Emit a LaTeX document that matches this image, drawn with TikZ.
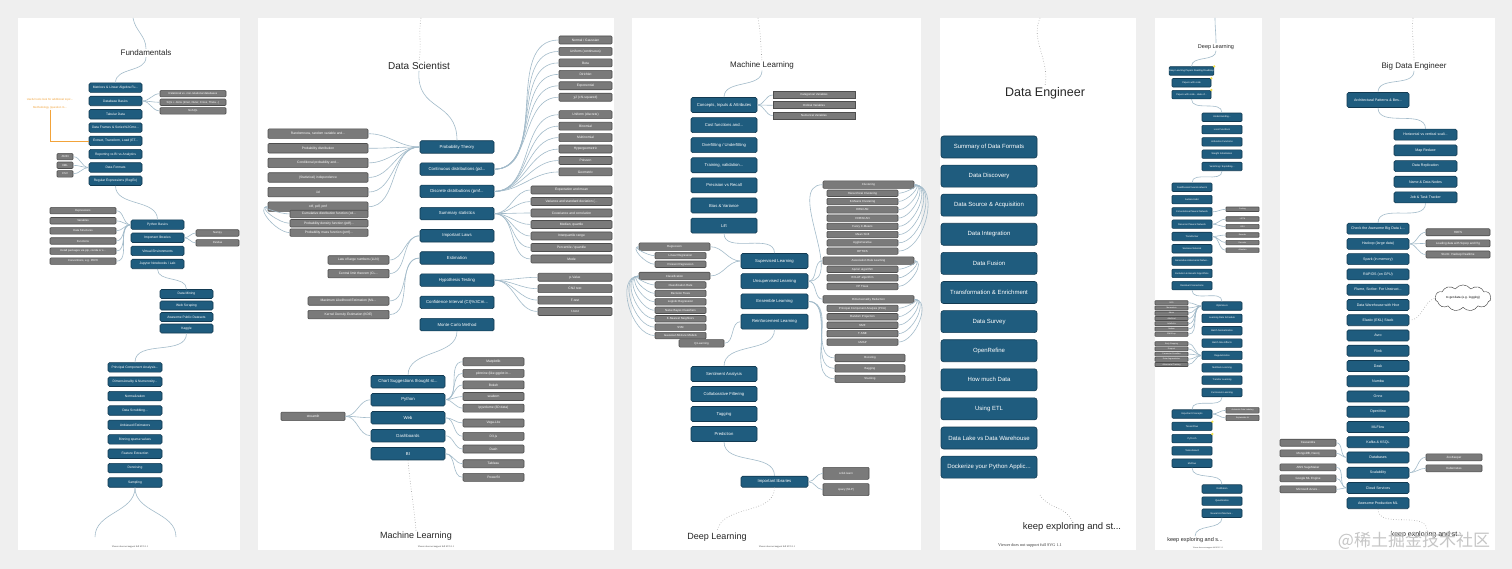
\documentclass[tikz,border=0pt]{standalone}
\usepackage{fontspec}
\setmainfont{Liberation Sans}
\newfontfamily\viewerfont{Liberation Serif}
\newfontfamily\cjk{Noto Sans CJK SC}
\usetikzlibrary{positioning,shapes.symbols}
\definecolor{PageGrey}{HTML}{EFEFEF}
\definecolor{TopicBlue}{HTML}{1F5C7E}
\definecolor{TopicEdge}{HTML}{123A52}
\definecolor{LeafGrey}{HTML}{7A7A7A}
\definecolor{LeafEdge}{HTML}{4E4E4E}
\definecolor{LinkBlue}{HTML}{A3BBCA}
\definecolor{NoteOrange}{HTML}{F2A33A}
\definecolor{NoteYellow}{HTML}{F2E04A}

\begin{document}
\begin{tikzpicture}[x=1pt, y=-1pt,
        topic/.style={rectangle, draw=TopicEdge, fill=TopicBlue, text=white, rounded corners=1.5pt, inner sep=0pt, align=center, line width=0.6pt},
        leaf/.style={rectangle, draw=LeafEdge, fill=LeafGrey, text=white, rounded corners=1pt, inner sep=0pt, align=center, line width=0.6pt},
        fundbox/.style={topic, minimum width=53pt, minimum height=9.5pt, font=\fontsize{3.3}{4}\selectfont},
        fundleaf/.style={leaf, minimum height=6.5pt, font=\fontsize{2.8}{3.4}\selectfont},
        dsbox/.style={topic, minimum width=74pt, minimum height=12.5pt, font=\fontsize{4.3}{5}\selectfont},
        dsleaf/.style={leaf, minimum height=8pt, font=\fontsize{3.3}{4}\selectfont},
        mlbox/.style={topic, minimum width=66pt, minimum height=15pt, font=\fontsize{4.2}{5}\selectfont},
        mlleaf/.style={leaf, minimum height=6.5pt, font=\fontsize{2.9}{3.4}\selectfont},
        debox/.style={topic, minimum width=96pt, minimum height=22pt, rounded corners=2.5pt, font=\fontsize{6}{7}\selectfont},
        dlbox/.style={topic, minimum width=40pt, minimum height=8.5pt, rounded corners=1pt, font=\fontsize{2.4}{3}\selectfont},
        dlleaf/.style={leaf, minimum width=33pt, minimum height=4.5pt, rounded corners=0.6pt, font=\fontsize{2}{2.4}\selectfont},
        bdbox/.style={topic, minimum width=62pt, minimum height=11pt, font=\fontsize{3.6}{4.2}\selectfont},
        bdleaf/.style={leaf, minimum width=56pt, minimum height=7pt, font=\fontsize{3}{3.6}\selectfont},
        headline/.style={text=black!85, inner sep=1pt},
        viewer/.style={font=\viewerfont\fontsize{2.4}{3}\selectfont, text=black!80, inner sep=0pt},
        link/.style={draw=LinkBlue, line width=0.6pt},
        dotlink/.style={draw=gray!75, dotted, line width=0.6pt},
        marker/.style={circle, fill=NoteYellow, inner sep=0pt, minimum size=2.6pt}
    ]
    % page and panels
    \fill [PageGrey] (0,0) rectangle (1512,569);
    \foreach \l/\r in {18/240, 258/614, 632/921, 940/1136, 1155/1262, 1280/1495}
        \fill [white] (\l,18) rectangle (\r,550);

    % ---------- Fundamentals ----------
    \node [headline, font=\fontsize{8}{9}\selectfont] (fund title) at (146,53) {Fundamentals};
    \coordinate (fund top) at (133,18);
    \node [fundbox] (matrices) at (115.5,87.7) {Matrices \& Linear Algebra Fu...};
    \node [fundbox, below=3.2pt of matrices] (dbbasics) {Database Basics};
    \node [fundbox, below=3.2pt of dbbasics] (tabular) {Tabular Data};
    \node [fundbox, below=3.2pt of tabular] (frames) {Data Frames \& Series\%2Cmo...};
    \node [fundbox, below=3.2pt of frames] (etl) {Extract, Transform, Load (ET...};
    \node [fundbox, below=3.2pt of etl] (reporting) {Reporting vs BI vs Analytics};
    \node [fundbox, below=3.2pt of reporting] (formats) {Data Formats};
    \node [fundbox, below=3.2pt of formats] (regex) {Regular Expressions (RegEx)};
    \node [fundleaf, minimum width=66pt] (relational) at (193,93.7) {Relational vs. non-relational databases};
    \node [fundleaf, minimum width=66pt, below=1.5pt of relational] (sqljoins) {SQL + Joins (Inner, Outer, Cross, Theta...)};
    \node [fundleaf, minimum width=66pt, below=1.5pt of sqljoins] (nosql) {NoSQL};
    \node [fundleaf, minimum width=16pt] (json) at (65,156.7) {JSON};
    \node [fundleaf, minimum width=16pt, below=1.5pt of json] (xml) {XML};
    \node [fundleaf, minimum width=16pt, below=1.5pt of xml] (csv) {CSV};
    \node [text=NoteOrange, align=center, inner sep=0pt, font=\fontsize{2.8}{8}\selectfont] (fund note) at (50,104) {Useful tools look for additional topic...\\Methodology (question m...};

    \node [fundbox] (pybasics) at (157.5,224.7) {Python Basics};
    \node [fundbox, below=3pt of pybasics] (pylibs) {Important libraries};
    \node [fundbox, below=3pt of pylibs] (venv) {Virtual Environments};
    \node [fundbox, below=3pt of venv] (jupyter) {Jupyter Notebooks / Lab};
    \node [fundleaf, minimum width=66pt] (expressions) at (83,210.7) {Expressions};
    \node [fundleaf, minimum width=66pt, below=3pt of expressions] (variables) {Variables};
    \node [fundleaf, minimum width=66pt, below=3pt of variables] (structures) {Data Structures};
    \node [fundleaf, minimum width=66pt, below=3pt of structures] (functions) {Functions};
    \node [fundleaf, minimum width=66pt, below=3pt of functions] (install) {Install packages via pip, conda or s...};
    \node [fundleaf, minimum width=66pt, below=3pt of install] (pep) {Conventions, e.g. PEP8};
    \node [fundleaf, minimum width=43pt] (numpy) at (217.5,233) {Numpy};
    \node [fundleaf, minimum width=43pt, below=2.8pt of numpy] (pandas) {Pandas};

    \node [fundbox, minimum height=9pt] (datamining) at (186.5,294) {Data Mining};
    \node [fundbox, minimum height=9pt, below=1.9pt of datamining] (scraping) {Web Scraping};
    \node [fundbox, minimum height=9pt, below=1.9pt of scraping] (datasets) {Awesome Public Datasets};
    \node [fundbox, minimum height=9pt, below=1.9pt of datasets] (kaggle) {Kaggle};

    \node [fundbox, minimum width=54pt] (pca) at (135,367.3) {Principal Component Analysis...};
    \node [fundbox, minimum width=54pt, below=4.3pt of pca] (numerosity) {Dimensionality \& Numerosity...};
    \node [fundbox, minimum width=54pt, below=4.3pt of numerosity] (normalization) {Normalization};
    \node [fundbox, minimum width=54pt, below=4.3pt of normalization] (scrubbing) {Data Scrubbing...};
    \node [fundbox, minimum width=54pt, below=4.3pt of scrubbing] (unbiased) {Unbiased Estimators};
    \node [fundbox, minimum width=54pt, below=4.3pt of unbiased] (binning) {Binning sparse values};
    \node [fundbox, minimum width=54pt, below=4.3pt of binning] (extraction) {Feature Extraction};
    \node [fundbox, minimum width=54pt, below=4.3pt of extraction] (denoising) {Denoising};
    \node [fundbox, minimum width=54pt, below=4.3pt of denoising] (sampling) {Sampling};
    \coordinate (fund fork left) at (95,537);
    \coordinate (fund fork right) at (176,537);
    \node [viewer] (fund viewer) at (130,547) {Viewer does not support full SVG 1.1};

    \draw [link] (fund top) to[out=-80,in=90] (fund title.north);
    \draw [link] (fund title.south) to[out=-90,in=90] (matrices.north);
    \foreach \leaf in {relational,sqljoins,nosql}
        \draw [link] (dbbasics.east) to[out=0,in=180] (\leaf.west);
    \foreach \leaf in {json,xml,csv}
        \draw [link] (formats.west) to[out=180,in=0] (\leaf.east);
    \draw [NoteOrange, line width=0.5pt] (fund note.south) |- (etl.west);
    \draw [link] (regex.south) to[out=-90,in=90] (pybasics.north);
    \foreach \leaf in {expressions,variables,structures,functions,install,pep}
        \draw [link] (pybasics.west) to[out=180,in=0] (\leaf.east);
    \foreach \leaf in {numpy,pandas}
        \draw [link] (pylibs.east) to[out=0,in=180] (\leaf.west);
    \draw [link] (jupyter.south) to[out=-90,in=90] (datamining.north);
    \draw [link] (kaggle.south) to[out=-90,in=90] (pca.north);
    \draw [link] (sampling.south) to[out=-90,in=90] (fund fork left);
    \draw [link] (sampling.south) to[out=-90,in=90] (fund fork right);

    % ---------- Data Scientist ----------
    \node [headline, font=\fontsize{10}{12}\selectfont] (ds title) at (419,66) {Data Scientist};
    \coordinate (ds top) at (421,18);
    \node [dsbox] (probtheory) at (457,147) {Probability Theory};
    \node [dsbox, below=9.1pt of probtheory] (continuous) {Continuous distributions (pd...};
    \node [dsbox, below=9.1pt of continuous] (discrete) {Discrete distributions (pmf...};
    \node [dsbox, below=9.1pt of discrete] (summary) {Summary statistics};
    \node [dsbox, below=9.1pt of summary] (laws) {Important Laws};
    \node [dsbox, below=9.1pt of laws] (estimation) {Estimation};
    \node [dsbox, below=9.1pt of estimation] (hypothesis) {Hypothesis Testing};
    \node [dsbox, below=9.1pt of hypothesis] (confidence) {Confidence Interval (CI)\%3Cm...};
    \node [dsbox, below=9.1pt of confidence] (montecarlo) {Monte Carlo Method};

    \node [dsleaf, minimum width=53pt] (gaussian) at (585.5,40) {Normal / Gaussian};
    \node [dsleaf, minimum width=53pt, below=2.85pt of gaussian] (unicont) {Uniform (continuous)};
    \node [dsleaf, minimum width=53pt, below=2.85pt of unicont] (beta) {Beta};
    \node [dsleaf, minimum width=53pt, below=2.85pt of beta] (dirichlet) {Dirichlet};
    \node [dsleaf, minimum width=53pt, below=2.85pt of dirichlet] (exponential) {Exponential};
    \node [dsleaf, minimum width=53pt, below=2.85pt of exponential] (chisq) {χ2 (chi-squared)};
    \node [dsleaf, minimum width=53pt] (unidisc) at (585.5,114.7) {Uniform (discrete)};
    \node [dsleaf, minimum width=53pt, below=2.85pt of unidisc] (binomial) {Binomial};
    \node [dsleaf, minimum width=53pt, below=2.85pt of binomial] (multinomial) {Multinomial};
    \node [dsleaf, minimum width=53pt, below=2.85pt of multinomial] (hypergeo) {Hypergeometric};
    \node [dsleaf, minimum width=53pt, below=2.85pt of hypergeo] (poisson) {Poisson};
    \node [dsleaf, minimum width=53pt, below=2.85pt of poisson] (geometric) {Geometric};
    \node [dsleaf, minimum width=81pt] (expectation) at (571.5,190) {Expectation and mean};
    \node [dsleaf, minimum width=81pt, below=2.9pt of expectation] (variance) {Variance and standard deviation (...};
    \node [dsleaf, minimum width=81pt, below=2.9pt of variance] (covariance) {Covariance and correlation};
    \node [dsleaf, minimum width=81pt, below=2.9pt of covariance] (median) {Median, quartile};
    \node [dsleaf, minimum width=81pt, below=2.9pt of median] (iqr) {Interquartile range};
    \node [dsleaf, minimum width=81pt, below=2.9pt of iqr] (percentile) {Percentile / quantile};
    \node [dsleaf, minimum width=81pt, below=2.9pt of percentile] (mode) {Mode};
    \node [dsleaf, minimum width=74pt] (pvalue) at (575,277.3) {p-Value};
    \node [dsleaf, minimum width=74pt, below=2.8pt of pvalue] (chitest) {Chi2 test};
    \node [dsleaf, minimum width=74pt, below=2.8pt of chitest] (ftest) {F-test};
    \node [dsleaf, minimum width=74pt, below=2.8pt of ftest] (ttest) {t-test};

    \node [dsleaf, minimum width=100pt, minimum height=9.5pt] (randomness) at (318,133.7) {Randomness, random variable and...};
    \node [dsleaf, minimum width=100pt, minimum height=9.5pt, below=4.5pt of randomness] (probdist) {Probability distribution};
    \node [dsleaf, minimum width=100pt, minimum height=9.5pt, below=4.5pt of probdist] (conditional) {Conditional probability and...};
    \node [dsleaf, minimum width=100pt, minimum height=9.5pt, below=4.5pt of conditional] (independence) {(Statistical) independence};
    \node [dsleaf, minimum width=100pt, minimum height=9.5pt, below=4.5pt of independence] (iid) {iid};
    \node [dsleaf, minimum width=100pt, minimum height=9.5pt, below=4.5pt of iid] (cdfpdf) {cdf, pdf, pmf};
    \node [dsleaf, minimum width=78pt, minimum height=7.5pt] (cdf) at (329,214) {Cumulative distribution function (cd...};
    \node [dsleaf, minimum width=78pt, minimum height=7.5pt, below=1.2pt of cdf] (pdf) {Probability density function (pdf)...};
    \node [dsleaf, minimum width=78pt, minimum height=7.5pt, below=1.2pt of pdf] (pmf) {Probability mass function (pmf)...};
    \node [dsleaf, minimum width=61pt, minimum height=8.5pt] (lln) at (358.5,260) {Law of large numbers (LLN)};
    \node [dsleaf, minimum width=61pt, minimum height=8.5pt, below=4.5pt of lln] (clt) {Central limit theorem (CL...};
    \node [dsleaf, minimum width=81pt, minimum height=8.5pt] (mle) at (348.5,301) {Maximum Likelihood Estimation (ML...};
    \node [dsleaf, minimum width=81pt, minimum height=8.5pt, below=4.5pt of mle] (kde) {Kernel Density Estimation (KDE)};

    \node [dsbox] (chart) at (408,381.7) {Chart Suggestions thought st...};
    \node [dsbox, below=4.9pt of chart] (python) {Python};
    \node [dsbox, below=4.9pt of python] (web) {Web};
    \node [dsbox, below=4.9pt of web] (dashboards) {Dashboards};
    \node [dsbox, below=4.9pt of dashboards] (bi) {BI};
    \node [dsleaf, minimum width=61pt] (matplotlib) at (493.5,361.7) {Matplotlib};
    \node [dsleaf, minimum width=61pt, below=3pt of matplotlib] (plotnine) {plotnine (like ggplot in...};
    \node [dsleaf, minimum width=61pt, below=3pt of plotnine] (bokeh) {Bokeh};
    \node [dsleaf, minimum width=61pt, below=3pt of bokeh] (seaborn) {seaborn};
    \node [dsleaf, minimum width=61pt, below=3pt of seaborn] (ipyvolume) {ipyvolume (3D data)};
    \node [dsleaf, minimum width=61pt] (vegalite) at (493.5,423) {Vega-Lite};
    \node [dsleaf, minimum width=61pt, below=4.7pt of vegalite] (dthree) {D3.js};
    \node [dsleaf, minimum width=61pt] (dash) at (493.5,449) {Dash};
    \node [dsleaf, minimum width=61pt] (tableau) at (493.5,463.7) {Tableau};
    \node [dsleaf, minimum width=61pt, below=5pt of tableau] (powerbi) {PowerBI};
    \node [dsleaf, minimum width=64pt, minimum height=8.5pt] (streamlit) at (313,416.3) {streamlit};
    \node [headline, font=\fontsize{9}{11}\selectfont] (ds next) at (416,536) {Machine Learning};
    \node [viewer] (ds viewer) at (436,546.5) {Viewer does not support full SVG 1.1};

    \draw [dotlink] (ds top) to[out=-100,in=80] (ds title.north);
    \draw [link] (ds title.south) .. controls (416,112) and (457,100) .. (probtheory.north);
    \foreach \leaf in {randomness,probdist,conditional,independence,iid,cdfpdf}
        \draw [link] (probtheory.west) to[out=180,in=0] (\leaf.east);
    \foreach \leaf in {cdf,pdf,pmf}
        \draw [link] (cdfpdf.west) to[out=180,in=180] (\leaf.west);
    \foreach \leaf in {gaussian,unicont,beta,dirichlet,exponential,chisq}
        \draw [link] (continuous.east) to[out=0,in=180] (\leaf.west);
    \foreach \leaf in {unidisc,binomial,multinomial,hypergeo,poisson,geometric}
        \draw [link] (discrete.east) to[out=0,in=180] (\leaf.west);
    \foreach \leaf in {expectation,variance,covariance,median,iqr,percentile,mode}
        \draw [link] (summary.east) to[out=0,in=180] (\leaf.west);
    \foreach \leaf in {pvalue,chitest,ftest,ttest}
        \draw [link] (hypothesis.east) to[out=0,in=180] (\leaf.west);
    \foreach \leaf in {lln,clt}
        \draw [link] (laws.west) to[out=180,in=0] (\leaf.east);
    \foreach \leaf in {mle,kde}
        \draw [link] (estimation.west) to[out=180,in=0] (\leaf.east);
    \draw [link] (montecarlo.south) to[out=-90,in=90] (chart.north);
    \foreach \leaf in {matplotlib,plotnine,bokeh,seaborn,ipyvolume}
        \draw [link] (python.east) to[out=0,in=180] (\leaf.west);
    \foreach \leaf in {vegalite,dthree}
        \draw [link] (web.east) to[out=0,in=180] (\leaf.west);
    \draw [link] (dashboards.east) to[out=0,in=180] (dash.west);
    \foreach \leaf in {tableau,powerbi}
        \draw [link] (bi.east) to[out=0,in=180] (\leaf.west);
    \foreach \parent in {python,web,dashboards}
        \draw [link] (\parent.west) to[out=180,in=0] (streamlit.east);
    \draw [dotlink] (bi.south) to[out=-85,in=95] (ds next.north);

    % ---------- Machine Learning ----------
    \node [headline, font=\fontsize{8}{10}\selectfont] (ml title) at (762,65.7) {Machine Learning};
    \coordinate (ml top) at (758,18);
    \node [mlbox] (concepts) at (724,105) {Concepts, Inputs \& Attributes};
    \node [mlbox, below=4.5pt of concepts] (cost) {Cost functions and...};
    \node [mlbox, below=4.5pt of cost] (overfitting) {Overfitting / Underfitting};
    \node [mlbox, below=4.5pt of overfitting] (training) {Training, validation...};
    \node [mlbox, below=4.5pt of training] (precision) {Precision vs Recall};
    \node [mlbox, below=4.5pt of precision] (bias) {Bias \& Variance};
    \node [mlbox, below=4.5pt of bias] (lift) {Lift};
    \node [mlleaf, minimum width=82pt, minimum height=7pt, rounded corners=0pt] (categorical) at (814,95) {Categorical Variables};
    \node [mlleaf, minimum width=82pt, minimum height=7pt, rounded corners=0pt, below=2.7pt of categorical] (ordinal) {Ordinal Variables};
    \node [mlleaf, minimum width=82pt, minimum height=7pt, rounded corners=0pt, below=2.7pt of ordinal] (numerical) {Numerical Variables};

    \node [mlbox, minimum width=67pt] (supervised) at (774.5,261) {Supervised Learning};
    \node [mlbox, minimum width=67pt, below=4.6pt of supervised] (unsupervised) {Unsupervised Learning};
    \node [mlbox, minimum width=67pt, below=4.6pt of unsupervised] (ensemble) {Ensemble Learning};
    \node [mlbox, minimum width=67pt, below=4.6pt of ensemble] (reinforcement) {Reinforcement Learning};

    \node [mlleaf, minimum width=71pt, minimum height=7.5pt] (regression) at (674.5,246.7) {Regression};
    \node [mlleaf, minimum width=51pt] (linreg) at (680.5,255.7) {Linear Regression};
    \node [mlleaf, minimum width=51pt, below=1.5pt of linreg] (poisreg) {Poisson Regression};
    \node [mlleaf, minimum width=71pt, minimum height=7.5pt] (classification) at (674.5,276) {Classification};
    \node [mlleaf, minimum width=51pt] (classrate) at (680.5,285) {Classification Rate};
    \node [mlleaf, minimum width=51pt, below=1.33pt of classrate] (trees) {Decision Trees};
    \node [mlleaf, minimum width=51pt, below=1.33pt of trees] (logreg) {Logistic Regression};
    \node [mlleaf, minimum width=51pt, below=1.33pt of logreg] (bayes) {Naïve Bayes Classifiers};
    \node [mlleaf, minimum width=51pt, below=1.33pt of bayes] (knn) {K-Nearest Neighbors};
    \node [mlleaf, minimum width=51pt, below=1.33pt of knn] (svm) {SVM};
    \node [mlleaf, minimum width=51pt, below=1.33pt of svm] (gmm) {Gaussian Mixture Models};
    \node [mlleaf, minimum width=45pt, minimum height=7.5pt] (qlearning) at (701.5,343.3) {Q-Learning};

    \node [mlleaf, minimum width=91pt, minimum height=7.5pt] (clustering) at (868.5,184.7) {Clustering};
    \node [mlleaf, minimum width=71pt] (hierarchical) at (862.5,193.3) {Hierarchical Clustering};
    \node [mlleaf, minimum width=71pt, below=1.17pt of hierarchical] (kmeans) {K-Means Clustering};
    \node [mlleaf, minimum width=71pt, below=1.17pt of kmeans] (dbscan) {DBSCAN};
    \node [mlleaf, minimum width=71pt, below=1.17pt of dbscan] (hdbscan) {HDBSCAN};
    \node [mlleaf, minimum width=71pt, below=1.17pt of hdbscan] (fuzzy) {Fuzzy C-Means};
    \node [mlleaf, minimum width=71pt, below=1.17pt of fuzzy] (meanshift) {Mean Shift};
    \node [mlleaf, minimum width=71pt, below=1.17pt of meanshift] (agglomerative) {Agglomerative};
    \node [mlleaf, minimum width=71pt, below=1.17pt of agglomerative] (optics) {OPTICS};
    \node [mlleaf, minimum width=91pt, minimum height=7.5pt] (association) at (868.5,260.7) {Association Rule Learning};
    \node [mlleaf, minimum width=71pt] (apriori) at (862.5,269.3) {Apriori algorithm};
    \node [mlleaf, minimum width=71pt, below=1.5pt of apriori] (eclat) {ECLAT algorithm};
    \node [mlleaf, minimum width=71pt, below=1.5pt of eclat] (fptrees) {FP Trees};
    \node [mlleaf, minimum width=91pt, minimum height=7.5pt] (dimred) at (868.5,299.3) {Dimensionality Reduction};
    \node [mlleaf, minimum width=71pt] (mlpca) at (862.5,308.3) {Principal Component Analysis (PCA)};
    \node [mlleaf, minimum width=71pt, below=1.35pt of mlpca] (projection) {Random Projection};
    \node [mlleaf, minimum width=71pt, below=1.35pt of projection] (nmf) {NMF};
    \node [mlleaf, minimum width=71pt, below=1.35pt of nmf] (tsne) {T-SNE};
    \node [mlleaf, minimum width=71pt, below=1.35pt of tsne] (umap) {UMAP};
    \node [mlleaf, minimum width=70pt, minimum height=7.5pt] (boosting) at (870,358) {Boosting};
    \node [mlleaf, minimum width=70pt, minimum height=7.5pt, below=2.3pt of boosting] (bagging) {Bagging};
    \node [mlleaf, minimum width=70pt, minimum height=7.5pt, below=2.3pt of bagging] (stacking) {Stacking};

    \node [mlbox] (sentiment) at (724,374) {Sentiment Analysis};
    \node [mlbox, below=4.4pt of sentiment] (collaborative) {Collaborative Filtering};
    \node [mlbox, below=4.4pt of collaborative] (tagging) {Tagging};
    \node [mlbox, below=4.4pt of tagging] (prediction) {Prediction};
    \node [mlbox, minimum width=67pt, minimum height=11pt] (mllibs) at (774.5,481.7) {Important libraries};
    \node [mlleaf, minimum width=46pt, minimum height=12pt] (sklearn) at (846,473.3) {scikit-learn};
    \node [mlleaf, minimum width=46pt, minimum height=12pt, below=3.7pt of sklearn] (spacy) {spacy (NLP)};
    \node [headline, font=\fontsize{9}{11}\selectfont] (ml next) at (717,537) {Deep Learning};
    \node [viewer] (ml viewer) at (777,547) {Viewer does not support full SVG 1.1};

    \draw [dotlink] (ml top) to[out=-80,in=95] (ml title.north);
    \draw [link] (ml title.south) to[out=-90,in=90] (concepts.north);
    \foreach \leaf in {categorical,ordinal,numerical}
        \draw [link] (concepts.east) to[out=0,in=180] (\leaf.west);
    \draw [link] (lift.south) to[out=-90,in=90] (supervised.north);
    \foreach \leaf in {regression,classification}
        \draw [link] (supervised.west) to[out=180,in=0] (\leaf.east);
    \foreach \leaf in {linreg,poisreg}
        \draw [link] (regression.west) to[out=180,in=180] (\leaf.west);
    \foreach \leaf in {classrate,trees,logreg,bayes,knn,svm,gmm}
        \draw [link] (classification.west) to[out=180,in=180] (\leaf.west);
    \draw [link] (reinforcement.west) to[out=180,in=0] (qlearning.east);
    \foreach \leaf in {clustering,association,dimred}
        \draw [link] (unsupervised.east) to[out=0,in=180] (\leaf.west);
    \foreach \leaf in {hierarchical,kmeans,dbscan,hdbscan,fuzzy,meanshift,agglomerative,optics}
        \draw [link] (clustering.east) to[out=0,in=0] (\leaf.east);
    \foreach \leaf in {apriori,eclat,fptrees}
        \draw [link] (association.east) to[out=0,in=0] (\leaf.east);
    \foreach \leaf in {mlpca,projection,nmf,tsne,umap}
        \draw [link] (dimred.east) to[out=0,in=0] (\leaf.east);
    \foreach \leaf in {boosting,bagging,stacking}
        \draw [link] (ensemble.east) to[out=0,in=180] (\leaf.west);
    \draw [link] (reinforcement.south) to[out=-90,in=90] (sentiment.north);
    \draw [link] (prediction.south) to[out=-90,in=90] (mllibs.north);
    \foreach \leaf in {sklearn,spacy}
        \draw [link] (mllibs.east) to[out=0,in=180] (\leaf.west);
    \draw [dotlink] (mllibs.south) to[out=-90,in=80] (ml next.north);

    % ---------- Data Engineer ----------
    \node [headline, font=\fontsize{12.5}{14}\selectfont] (de title) at (1045,93) {Data Engineer};
    \coordinate (de top) at (1040,18);
    \node [debox] (formatsummary) at (989,147) {Summary of Data Formats};
    \node [debox, below=6.5pt of formatsummary] (discovery) {Data Discovery};
    \node [debox, below=6.5pt of discovery] (acquisition) {Data Source \& Acquisition};
    \node [debox, below=6.5pt of acquisition] (integration) {Data Integration};
    \node [debox, below=6.5pt of integration] (fusion) {Data Fusion};
    \node [debox, below=6.5pt of fusion] (enrichment) {Transformation \& Enrichment};
    \node [debox, below=6.5pt of enrichment] (survey) {Data Survey};
    \node [debox, below=6.5pt of survey] (openrefine) {OpenRefine};
    \node [debox, below=6.5pt of openrefine] (howmuch) {How much Data};
    \node [debox, below=6.5pt of howmuch] (usingetl) {Using ETL};
    \node [debox, below=6.5pt of usingetl] (datalake) {Data Lake vs Data Warehouse};
    \node [debox, below=6.5pt of datalake] (dockerize) {Dockerize your Python Applic...};
    \coordinate (de tail) at (1040,495);
    \node [headline, font=\fontsize{9.5}{11}\selectfont] (de keep) at (1072,527) {keep exploring and st...};
    \node [viewer, font=\viewerfont\fontsize{4.2}{5}\selectfont] (de viewer) at (1030,545) {Viewer does not support full SVG 1.1};

    \draw [dotlink] (de top) .. controls (1030,40) and (1050,60) .. (de title.north);
    \draw [dotlink] (de tail) to[out=-60,in=110] (de keep.north);

    % ---------- Deep Learning ----------
    \node [headline, font=\fontsize{5.5}{6.5}\selectfont] (dl title) at (1216,47) {Deep Learning};
    \coordinate (dl top) at (1215,18);
    \node [dlbox, minimum width=39pt] (roadmap) at (1191.5,71) {Deep Learning Papers Reading Roadmap};
    \node [dlbox, minimum width=39pt, below=2.7pt of roadmap] (paperscode) {Papers with code};
    \node [dlbox, minimum width=39pt, below=2.7pt of paperscode] (stateart) {Papers with code - state of...};
    \node [dlbox] (understanding) at (1222,117.3) {Understanding...};
    \node [dlbox, below=3.2pt of understanding] (loss) {Loss Functions};
    \node [dlbox, below=3.2pt of loss] (activation) {Activation Functions};
    \node [dlbox, below=3.2pt of activation] (initialization) {Weight Initialization};
    \node [dlbox, below=3.2pt of initialization] (vanishing) {Vanishing / Exploding...};
    \node [dlbox] (feedforward) at (1192,187.3) {Feedforward neural network};
    \node [dlbox, below=3.2pt of feedforward] (autoencoder) {Autoencoder};
    \node [dlbox, below=3.2pt of autoencoder] (cnn) {Convolutional Neural Network};
    \node [dlbox, below=3.2pt of cnn] (rnn) {Recurrent Neural Network};
    \node [dlbox, below=3.2pt of rnn] (transformer) {Transformer};
    \node [dlbox, below=3.2pt of transformer] (siamese) {Siamese Network};
    \node [dlbox, below=3.2pt of siamese] (gan) {Generative Adversarial Netwo...};
    \node [dlbox, below=3.2pt of gan] (evolution) {Evolution \& Genetic Algorithms};
    \node [dlbox, below=3.2pt of evolution] (residual) {Residual Connections};
    \node [dlleaf] (pooling) at (1242.5,209.3) {Pooling};
    \node [dlleaf] (lstm) at (1242.5,219) {LSTM};
    \node [dlleaf, below=2.5pt of lstm] (gru) {GRU};
    \node [dlleaf] (encoder) at (1242.5,235) {Encoder};
    \node [dlleaf, below=2.5pt of encoder] (decoder) {Decoder};
    \node [dlleaf, below=2.5pt of decoder] (attention) {Attention};

    \node [dlbox] (optimizers) at (1222,306) {Optimizers};
    \node [dlbox, below=3.26pt of optimizers] (ratesched) {Learning Rate Schedule};
    \node [dlbox, below=3.26pt of ratesched] (batchnorm) {Batch Normalization};
    \node [dlbox, below=3.26pt of batchnorm] (batchsize) {Batch Size Effects};
    \node [dlbox, below=3.26pt of batchsize] (regularization) {Regularization};
    \node [dlbox, below=3.26pt of regularization] (multitask) {Multitask Learning};
    \node [dlbox, below=3.26pt of multitask] (transfer) {Transfer Learning};
    \node [dlbox, below=3.26pt of transfer] (curriculum) {Curriculum Learning};
    \node [dlleaf, minimum height=4pt] (sgd) at (1171.5,302.7) {SGD};
    \node [dlleaf, minimum height=4pt, below=0.67pt of sgd] (momentum) {Momentum};
    \node [dlleaf, minimum height=4pt, below=0.67pt of momentum] (adam) {Adam};
    \node [dlleaf, minimum height=4pt, below=0.67pt of adam] (adagrad) {AdaGrad};
    \node [dlleaf, minimum height=4pt, below=0.67pt of adagrad] (adadelta) {AdaDelta};
    \node [dlleaf, minimum height=4pt, below=0.67pt of adadelta] (nadam) {Nadam};
    \node [dlleaf, minimum height=4pt, below=0.67pt of nadam] (rmsprop) {RMSProp};
    \node [dlleaf, minimum height=4pt] (earlystop) at (1171.5,343.7) {Early Stopping};
    \node [dlleaf, minimum height=4pt, below=0.6pt of earlystop] (dropout) {Dropout};
    \node [dlleaf, minimum height=4pt, below=0.6pt of dropout] (penalties) {Parameter Penalties};
    \node [dlleaf, minimum height=4pt, below=0.6pt of penalties] (augmentation) {Data Augmentation};
    \node [dlleaf, minimum height=4pt, below=0.6pt of augmentation] (adversarial) {Adversarial Training};

    \node [dlbox] (dlconcepts) at (1192,414) {Important Concepts};
    \node [dlbox, below=3.2pt of dlconcepts] (tensorflow) {TensorFlow};
    \node [dlbox, below=3.2pt of tensorflow] (pytorch) {PyTorch};
    \node [dlbox, below=3.2pt of pytorch] (tensorboard) {Tensorboard};
    \node [dlbox, below=3.2pt of tensorboard] (dlmlflow) {MLFlow};
    \node [dlleaf, minimum height=5.5pt] (autolabel) at (1242.5,410.3) {Automatic Data Labeling};
    \node [dlleaf, minimum height=5.5pt, below=1.5pt of autolabel] (explainable) {Explainable AI};
    \node [dlbox] (distillation) at (1222,489) {Distillation};
    \node [dlbox, below=3pt of distillation] (quantization) {Quantization};
    \node [dlbox, below=3pt of quantization] (nas) {Neural Architecture...};
    \node [headline, font=\fontsize{5.5}{6.5}\selectfont] (dl keep) at (1195,540) {keep exploring and s...};
    \node [viewer, font=\viewerfont\fontsize{2}{2.4}\selectfont] (dl viewer) at (1208,547.7) {Viewer does not support full SVG 1.1};
    \foreach \topic in {roadmap,paperscode,stateart,tensorflow,pytorch}
        \node [marker] at (\topic.north east) {};

    \draw [link] (dl top) to[out=-90,in=90] (dl title.north);
    \draw [link] (dl title.south) to[out=-90,in=90] (roadmap.north);
    \draw [link] (stateart.south) to[out=-90,in=90] (understanding.north);
    \draw [link] (vanishing.south) to[out=-90,in=90] (feedforward.north);
    \draw [link] (cnn.east) to[out=0,in=180] (pooling.west);
    \foreach \leaf in {lstm,gru}
        \draw [link] (rnn.east) to[out=0,in=180] (\leaf.west);
    \foreach \leaf in {encoder,decoder,attention}
        \draw [link] (transformer.east) to[out=0,in=180] (\leaf.west);
    \draw [link] (residual.south) to[out=-90,in=90] (optimizers.north);
    \foreach \leaf in {sgd,momentum,adam,adagrad,adadelta,nadam,rmsprop}
        \draw [link] (optimizers.west) to[out=180,in=0] (\leaf.east);
    \foreach \leaf in {earlystop,dropout,penalties,augmentation,adversarial}
        \draw [link] (regularization.west) to[out=180,in=0] (\leaf.east);
    \draw [link] (curriculum.south) to[out=-90,in=90] (dlconcepts.north);
    \foreach \leaf in {autolabel,explainable}
        \draw [link] (dlconcepts.east) to[out=0,in=180] (\leaf.west);
    \draw [link] (dlmlflow.south) to[out=-90,in=90] (distillation.north);
    \draw [link] (nas.south) to[out=-90,in=90] (dl keep.north);

    % ---------- Big Data Engineer ----------
    \node [headline, font=\fontsize{8}{10}\selectfont] (bd title) at (1414,66) {Big Data Engineer};
    \coordinate (bd top) at (1413,18);
    \node [bdbox, minimum height=15pt] (architecture) at (1378,100) {Architectural Patterns \& Bes...};
    \node [bdbox, minimum width=63pt] (scaling) at (1425.5,134.7) {Horizontal vs vertical scali...};
    \node [bdbox, minimum width=63pt, below=4.08pt of scaling] (mapreduce) {Map Reduce};
    \node [bdbox, minimum width=63pt, below=4.08pt of mapreduce] (replication) {Data Replication};
    \node [bdbox, minimum width=63pt, below=4.08pt of replication] (namenodes) {Name \& Data Nodes};
    \node [bdbox, minimum width=63pt, below=4.08pt of namenodes] (tracker) {Job \& Task Tracker};
    \node [bdbox] (awesomebig) at (1378,228.7) {Check the Awesome Big Data L...};
    \node [bdbox, below=3.65pt of awesomebig] (hadoop) {Hadoop (large data)};
    \node [bdbox, below=3.65pt of hadoop] (spark) {Spark (in memory)};
    \node [bdbox, below=3.65pt of spark] (rapids) {RAPIDS (on GPU)};
    \node [bdbox, below=3.65pt of rapids] (flume) {Flume, Scribe: For Unstruct...};
    \node [bdbox, below=3.65pt of flume] (hive) {Data Warehouse with Hive};
    \node [bdbox, below=3.65pt of hive] (elastic) {Elastic (EKL) Stack};
    \node [bdbox, below=3.65pt of elastic] (avro) {Avro};
    \node [bdbox, below=3.65pt of avro] (flink) {Flink};
    \node [bdbox, below=3.65pt of flink] (dask) {Dask};
    \node [bdbox, below=3.65pt of dask] (numba) {Numba};
    \node [bdbox, below=3.65pt of numba] (onnx) {Onnx};
    \node [bdbox, below=3.65pt of onnx] (openvino) {OpenVino};
    \node [bdbox, below=3.65pt of openvino] (mlflow) {MLFlow};
    \node [bdbox, below=3.65pt of mlflow] (kafka) {Kafka \& KSQL};
    \node [bdbox, below=3.65pt of kafka] (databases) {Databases};
    \node [bdbox, below=3.65pt of databases] (scalability) {Scalability};
    \node [bdbox, below=3.65pt of scalability] (cloud) {Cloud Services};
    \node [bdbox, below=3.65pt of cloud] (productionml) {Awesome Production ML};
    \node [bdleaf, minimum width=64pt] (hdfs) at (1458,232.3) {HDFS};
    \node [bdleaf, minimum width=64pt, below=3.5pt of hdfs] (sqoop) {Loading data with Sqoop and Pig};
    \node [bdleaf, minimum width=64pt, below=3.5pt of sqoop] (storm) {Storm: Hadoop Realtime};
    \node [cloud, cloud puffs=11, cloud puff arc=110, aspect=2.4, draw=black!80, fill=white, inner sep=0pt, minimum width=56pt, minimum height=25pt, font=\fontsize{3.1}{3.6}\selectfont] (logging) at (1463,298) {to get data (e.g. logging)};
    \node [bdleaf] (cassandra) at (1308,442.7) {Cassandra};
    \node [bdleaf, below=3pt of cassandra] (mongodb) {MongoDB, Neo4j};
    \node [bdleaf] (sagemaker) at (1308,467.3) {AWS SageMaker};
    \node [bdleaf, below=3.4pt of sagemaker] (mlengine) {Google ML Engine};
    \node [bdleaf, below=3.4pt of mlengine] (azure) {Microsoft Azure...};
    \node [bdleaf] (zookeeper) at (1454,457.3) {ZooKeeper};
    \node [bdleaf, below=3.4pt of zookeeper] (kubernetes) {Kubernetes};
    \node [headline, font=\fontsize{7}{8.5}\selectfont] (bd keep) at (1427,535) {keep exploring and st...};
    \node [font=\cjk\fontsize{17}{19}\selectfont, text=gray!45, inner sep=0pt] (watermark) at (1414,541) {@稀土掘金技术社区};

    \draw [dotlink] (bd top) to[out=-95,in=90] (bd title.north);
    \draw [link] (bd title.south) to[out=-90,in=90] (architecture.north);
    \draw [link] (architecture.south) to[out=-90,in=90] (scaling.north);
    \draw [link] (tracker.south) to[out=-90,in=90] (awesomebig.north);
    \foreach \leaf in {hdfs,sqoop,storm}
        \draw [link] (hadoop.east) to[out=0,in=180] (\leaf.west);
    \draw [dotlink] (elastic.east) to[out=0,in=200] (logging.west);
    \foreach \leaf in {cassandra,mongodb}
        \draw [link] (databases.west) to[out=180,in=0] (\leaf.east);
    \foreach \leaf in {sagemaker,mlengine,azure}
        \draw [link] (cloud.west) to[out=180,in=0] (\leaf.east);
    \foreach \leaf in {zookeeper,kubernetes}
        \draw [link] (scalability.east) to[out=0,in=180] (\leaf.west);
    \draw [dotlink] (productionml.south) to[out=-90,in=90] (bd keep.north);
\end{tikzpicture}
\end{document}
